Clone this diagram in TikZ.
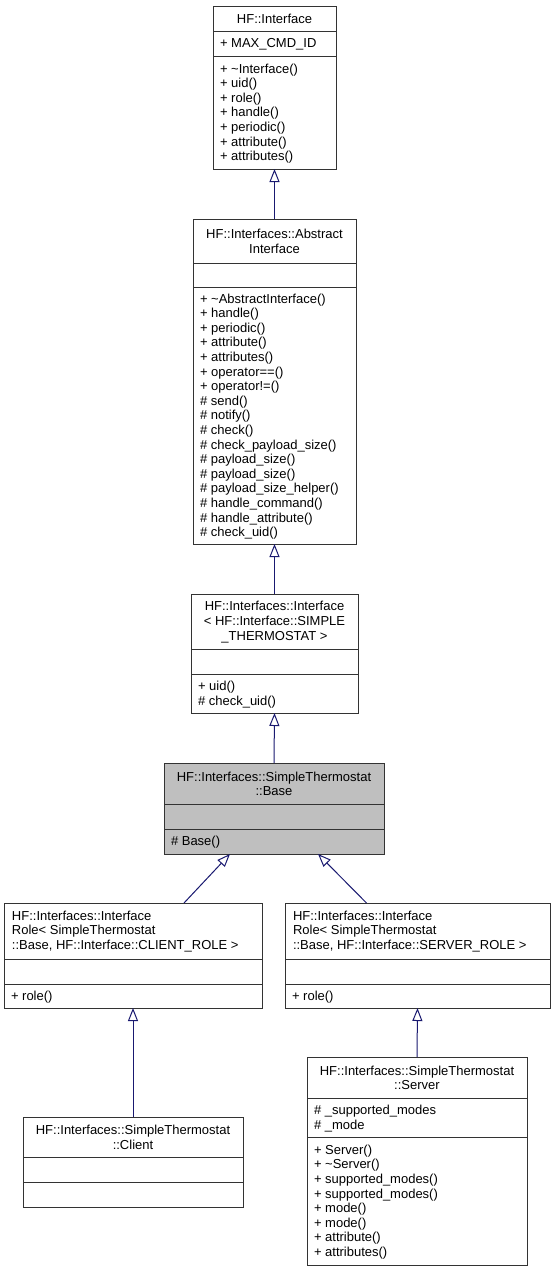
\documentclass[tikz,border=0pt]{standalone}
\usepackage{fontspec}
\setmainfont{Liberation Sans}
\usetikzlibrary{arrows.meta,fit,calc}
\definecolor{edgeblue}{HTML}{191970}
\definecolor{basegray}{HTML}{BFBFBF}
\newcommand\umlbox[8]{%
  \coordinate (#1-tl) at (#2,#3);
  \coordinate (#1-br) at (#4,#7);
  \node[cls, fill=#8, fit=(#1-tl)(#1-br)] (#1) {};
  \draw[sepline] (#2,#5) -- (#4,#5);
  \draw[sepline] (#2,#6) -- (#4,#6);
}
\tikzset{
  txt/.style={inner sep=0pt, outer sep=0pt, font=\fontsize{13}{14.6}\selectfont},
  cls/.style={draw=black!80, line width=1pt, inner sep=0pt, outer sep=0pt},
  sepline/.style={draw=black!80, line width=1pt},
  ttl/.style={txt, align=center},
  ttlL/.style={txt, align=left, anchor=west},
  mem/.style={txt, align=left, anchor=west},
  inh/.style={draw=edgeblue, line width=1pt, -{Triangle[open, length=13pt, width=10pt]}},
}
\begin{document}
\begin{tikzpicture}[x=1pt, y=-1pt]
\useasboundingbox (0,0) rectangle (555,1272);
\fill[white] (0,0) rectangle (555,1272);

% HF::Interface
\umlbox{hfi}{213}{6}{336}{31}{56}{169}{white}
\node[ttl] (hfi-t) at ({(213+336)/2},{(6+31)/2+0.5}) {HF::Interface};
\node[mem] (hfi-a) at (220,{(31+56)/2+1}) {+ MAX\_CMD\_ID};
\node[mem] (hfi-m) at (220,{(56+169)/2+1}) {+ \textasciitilde Interface()\\+ uid()\\+ role()\\+ handle()\\+ periodic()\\+ attribute()\\+ attributes()};

% AbstractInterface
\umlbox{abs}{193}{219}{356}{263}{287}{544}{white}
\node[ttl] (abs-t) at ({(193+356)/2},{(219+263)/2+0.5}) {HF::Interfaces::Abstract\\Interface};
\node[mem] (abs-m) at (200,{(287+544)/2+1}) {+ \textasciitilde AbstractInterface()\\+ handle()\\+ periodic()\\+ attribute()\\+ attributes()\\+ operator==()\\+ operator!=()\\\# send()\\\# notify()\\\# check()\\\# check\_payload\_size()\\\# payload\_size()\\\# payload\_size()\\\# payload\_size\_helper()\\\# handle\_command()\\\# handle\_attribute()\\\# check\_uid()};

% Interface<SIMPLE_THERMOSTAT>
\umlbox{ifc}{191}{594}{358}{649}{674}{713}{white}
\node[ttl] (ifc-t) at ({(191+358)/2},{(594+649)/2+0.5}) {HF::Interfaces::Interface\\< HF::Interface::SIMPLE\\\_THERMOSTAT >};
\node[mem] (ifc-m) at (198,{(674+713)/2+1}) {+ uid()\\\# check\_uid()};

% Base
\umlbox{base}{164}{763}{384}{804}{829}{854}{basegray}
\node[ttl] (base-t) at ({(164+384)/2},{(763+804)/2+0.5}) {HF::Interfaces::SimpleThermostat\\::Base};
\node[mem] (base-m) at (171,{(829+854)/2+1}) {\# Base()};

% Client role
\umlbox{crole}{4}{903}{262}{959}{984}{1008}{white}
\node[ttlL] (crole-t) at (12,{(903+959)/2+0.5}) {HF::Interfaces::Interface\\Role< SimpleThermostat\\::Base, HF::Interface::CLIENT\_ROLE >};
\node[mem] (crole-m) at (11,{(984+1008)/2+1}) {+ role()};

% Server role
\umlbox{srole}{285}{903}{550}{959}{984}{1008}{white}
\node[ttlL] (srole-t) at (293,{(903+959)/2+0.5}) {HF::Interfaces::Interface\\Role< SimpleThermostat\\::Base, HF::Interface::SERVER\_ROLE >};
\node[mem] (srole-m) at (292,{(984+1008)/2+1}) {+ role()};

% Client
\umlbox{cli}{23}{1117}{243}{1157}{1182}{1207}{white}
\node[ttl] (cli-t) at ({(23+243)/2},{(1117+1157)/2+0.5}) {HF::Interfaces::SimpleThermostat\\::Client};

% Server
\umlbox{srv}{307}{1057}{527}{1098}{1137}{1265}{white}
\node[ttl] (srv-t) at ({(307+527)/2},{(1057+1098)/2+0.5}) {HF::Interfaces::SimpleThermostat\\::Server};
\node[mem] (srv-a) at (314,{(1098+1137)/2+1}) {\# \_supported\_modes\\\# \_mode};
\node[mem] (srv-m) at (314,{(1137+1265)/2+1}) {+ Server()\\+ \textasciitilde Server()\\+ supported\_modes()\\+ supported\_modes()\\+ mode()\\+ mode()\\+ attribute()\\+ attributes()};

% inheritance connectors
\draw[inh] (abs.north) -- (hfi.south);
\draw[inh] (ifc.north) -- (abs.south);
\draw[inh] (base.north) -- (ifc.south);
\draw[inh] ($(crole.north)+(51,0)$) -- ($(base.south)+(-44,0)$);
\draw[inh] ($(srole.north)+(-51,0)$) -- ($(base.south)+(44,0)$);
\draw[inh] (cli.north) -- (crole.south);
\draw[inh] (srv.north) -- (srole.south);
\end{tikzpicture}
\end{document}
